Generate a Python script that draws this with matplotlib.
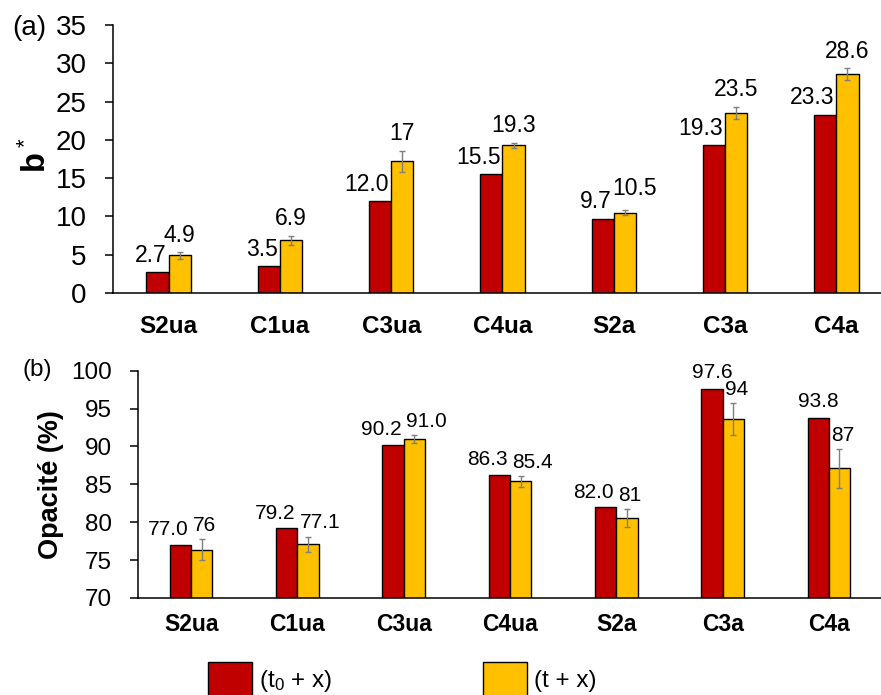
import matplotlib
matplotlib.use("Agg")
import matplotlib.pyplot as plt
from matplotlib.patches import Patch
import numpy as np

plt.rcParams.update({
    'font.family': ['Liberation Sans', 'DejaVu Sans'],
    'mathtext.fontset': 'custom',
    'mathtext.rm': 'Liberation Sans',
    'mathtext.it': 'Liberation Sans:italic',
    'mathtext.bf': 'Liberation Sans:bold',
})

# données
categories = ['S2ua', 'C1ua', 'C3ua', 'C4ua', 'S2a', 'C3a', 'C4a']

b_t0 = [2.7, 3.5, 12.0, 15.5, 9.7, 19.3, 23.3]
b_t = [4.9, 6.9, 17.2, 19.3, 10.5, 23.5, 28.6]
b_t_err = [0.4, 0.6, 1.4, 0.3, 0.35, 0.8, 0.75]
b_t0_lbl = ['2.7', '3.5', '12.0', '15.5', '9.7', '19.3', '23.3']
b_t_lbl = ['4.9', '6.9', '17', '19.3', '10.5', '23.5', '28.6']

op_t0 = [77.0, 79.2, 90.2, 86.3, 82.0, 97.6, 93.8]
op_t = [76.4, 77.1, 91.0, 85.4, 80.55, 93.6, 87.1]
op_t_err = [1.4, 1.0, 0.5, 0.7, 1.2, 2.1, 2.55]
op_t0_lbl = ['77.0', '79.2', '90.2', '86.3', '82.0', '97.6', '93.8']
op_t_lbl = ['76', '77.1', '91.0', '85.4', '81', '94', '87']

RED = '#C00000'
YEL = '#FFC000'
W = 0.2

fig = plt.figure(figsize=(8.81, 6.95), dpi=100)
ax1 = fig.add_axes([113 / 881, 1 - 293 / 695, (892 - 113) / 881, 268 / 695])
ax2 = fig.add_axes([138 / 881, 1 - 598 / 695, (882 - 138) / 881, 227.3 / 695])


def style_axes(ax, tick_fs, cat_fs, cat_pad):
    for s in ['top', 'right']:
        ax.spines[s].set_visible(False)
    for s in ['left', 'bottom']:
        ax.spines[s].set_linewidth(1.1)
    ax.tick_params(axis='y', direction='out', length=6, width=1.1,
                   labelsize=tick_fs, pad=13)
    ax.tick_params(axis='x', length=0, labelsize=cat_fs, pad=cat_pad)
    ax.set_xticks(np.arange(len(categories)))
    ax.set_xticklabels(categories, fontweight='bold')
    ax.set_xlim(-0.5, len(categories) - 0.5)


def draw_bars(ax, v0, v1, err):
    x = np.arange(len(categories))
    ax.bar(x - W / 2, v0, W, color=RED, edgecolor='black', linewidth=1.0, zorder=2)
    ax.bar(x + W / 2, v1, W, color=YEL, edgecolor='black', linewidth=1.0, zorder=2)
    ax.errorbar(x + W / 2, v1, yerr=err, fmt='none', ecolor='#7f7f7f',
                elinewidth=1.0, capsize=2.5, capthick=1.0, zorder=3)
    return x


# (a) b*
x = draw_bars(ax1, b_t0, b_t, b_t_err)
ax1.set_ylim(0, 35)
ax1.set_yticks(range(0, 36, 5))
style_axes(ax1, 20, 17.5, 16)
fig.text(34 / 881, 1 - 160 / 695, 'b', fontsize=23.5, fontweight='bold',
         rotation=90, ha='center', va='center')
fig.text(25 / 881, 1 - 143 / 695, '*', fontsize=16, rotation=90,
         ha='center', va='center')
yel_ha_a = ['center', 'center', 'center', 'center', 'left', 'center', 'center']
for i in range(len(categories)):
    ax1.annotate(b_t0_lbl[i], (x[i], b_t0[i]), xytext=(-1.5, 4),
                 textcoords='offset points', ha='right', va='bottom', fontsize=16.5)
    if yel_ha_a[i] == 'center':
        ax1.annotate(b_t_lbl[i], (x[i] + W / 2, b_t[i] + b_t_err[i]), xytext=(0, 4),
                     textcoords='offset points', ha='center', va='bottom', fontsize=16.5)
    else:
        ax1.annotate(b_t_lbl[i], (x[i], b_t[i] + b_t_err[i]), xytext=(-1, 7),
                     textcoords='offset points', ha='left', va='bottom', fontsize=16.5)
fig.text(12 / 881, 1 - 28 / 695, '(a)', fontsize=20, va='center', ha='left')

# (b) opacité
x = draw_bars(ax2, op_t0, op_t, op_t_err)
ax2.set_ylim(70, 100)
ax2.set_yticks(range(70, 101, 5))
style_axes(ax2, 17.5, 16.5, 11)
ax2.set_ylabel('Opacité (%)', fontsize=19.5, fontweight='bold', labelpad=5)
red_ha = ['right', 'right', 'right', 'right', 'right', 'center', 'center']
for i in range(len(categories)):
    if red_ha[i] == 'right':
        ax2.annotate(op_t0_lbl[i], (x[i], op_t0[i]), xytext=(-1.5, 4),
                     textcoords='offset points', ha='right', va='bottom', fontsize=15)
    else:
        ax2.annotate(op_t0_lbl[i], (x[i] - W / 2, op_t0[i]), xytext=(0, 5),
                     textcoords='offset points', ha='center', va='bottom', fontsize=15)
    ax2.annotate(op_t_lbl[i], (x[i], op_t[i] + op_t_err[i]), xytext=(1.5, 3),
                 textcoords='offset points', ha='left', va='bottom', fontsize=15)
fig.text(23 / 881, 1 - 370 / 695, '(b)', fontsize=17.5, va='center', ha='left')

# légende
handles = [Patch(facecolor=RED, edgecolor='black', linewidth=1.0),
           Patch(facecolor=YEL, edgecolor='black', linewidth=1.0)]
fig.legend(handles, [r'(t$_0$ + x)', '(t + x)'], ncol=2, frameon=False,
           loc='upper left', bbox_to_anchor=(208 / 881, 1 - 662 / 695),
           fontsize=17.5, handlelength=1.8, handleheight=1.8, handletextpad=0.3,
           columnspacing=6.2, borderpad=0, borderaxespad=0)

fig.savefig('out.png', dpi=100)
